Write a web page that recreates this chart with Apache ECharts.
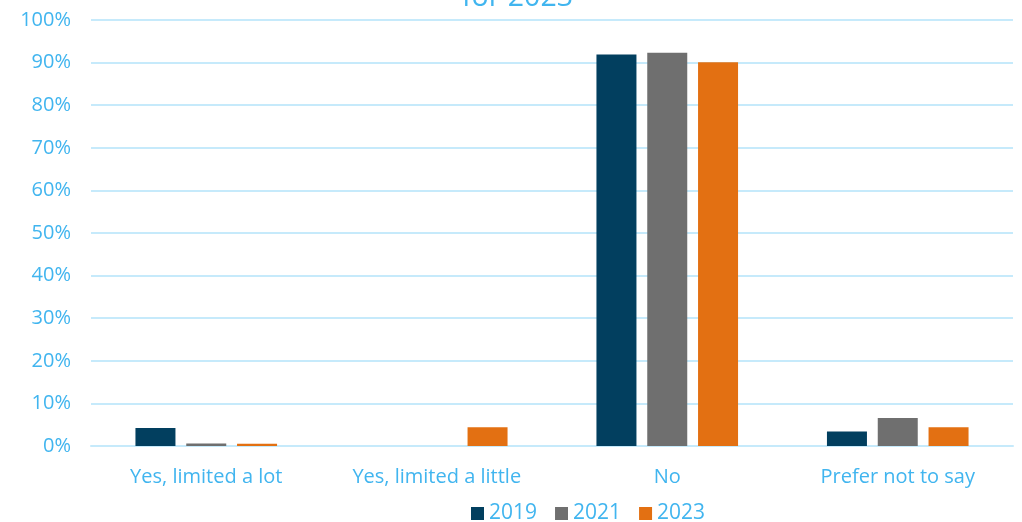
<!DOCTYPE html>
<html><head><meta charset="utf-8">
<script src="https://cdn.jsdelivr.net/npm/echarts@6/dist/echarts.min.js"></script>
<style>html,body{margin:0;padding:0;background:#fff}#c{width:1022px;height:522px}</style>
</head><body><div id="c"></div>
<script>
const categories = ["Yes, limited a lot", "Yes, limited a little", "No", "Prefer not to say"];
const years = ["2019", "2021", "2023"];
const v2019 = [4.2, 0, 91.9, 3.4];
const v2021 = [0.6, 0, 92.3, 6.6];
const v2023 = [0.5, 4.4, 90.1, 4.4];
const colors = ["#023f5f", "#6f6f6f", "#e37012"];
const txt = "#41b5ef";
const font = "Open Sans";
const chart = echarts.init(document.getElementById('c'));
chart.setOption({
  animation: false,
  title: { text: "for 2023", left: 457, top: -22, textStyle: { color: txt, fontFamily: font, fontWeight: 'normal', fontSize: 28.5 } },
  grid: { left: 91, right: 9, top: 20, bottom: 76 },
  legend: { top: 498, left: 466, itemWidth: 13, itemHeight: 13, itemGap: 18, icon: 'rect',
    textStyle: { color: txt, fontFamily: font, fontSize: 21, padding: [0,0,0,0] } },
  xAxis: { type: 'category', data: categories,
    axisLine: { lineStyle: { color: '#c6eafb', width: 2 } }, axisTick: { show: false },
    axisLabel: { color: txt, fontFamily: font, fontSize: 20, margin: 21 } },
  yAxis: { type: 'value', min: 0, max: 100, interval: 10,
    axisLabel: { color: txt, fontFamily: font, fontSize: 20, margin: 20, formatter: '{value}%' },
    splitLine: { lineStyle: { color: '#c6eafb', width: 2 } }, axisLine: { show: false }, axisTick: { show: false } },
  series: [v2019, v2021, v2023].map((d, i) => ({
    name: years[i], type: 'bar', data: d, barWidth: 40, barGap: '27%',
    itemStyle: { color: colors[i] }
  }))
});
</script></body></html>
